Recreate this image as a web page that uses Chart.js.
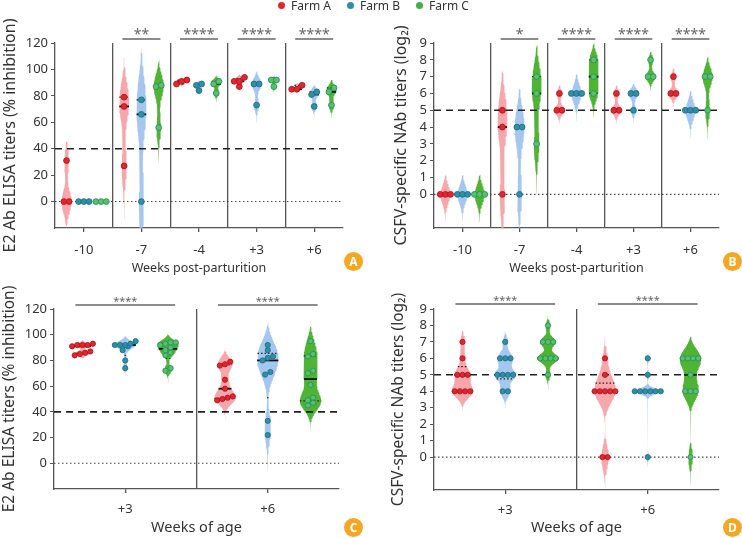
<!DOCTYPE html>
<html>
<head>
<meta charset="utf-8">
<script src="https://cdn.jsdelivr.net/npm/chart.js@4.4.1/dist/chart.umd.min.js"></script>
<style>
  body { margin: 0; background: #fff; font-family: "Noto Sans", sans-serif; }
  #wrap { position: relative; width: 742px; height: 538px; overflow: hidden; }
  canvas { position: absolute; }
  #legend { position: absolute; top: -1px; left: 278px; display: flex; gap: 16px; font-size: 12px; line-height: 13px; color: #333; }
  #legend span { display: flex; align-items: center; }
  #legend i { display: inline-block; width: 7px; height: 7px; border-radius: 50%; margin-right: 6px; }
  .badge { position: absolute; width: 19px; height: 19px; border-radius: 50%; background: #f4a720; color: #fff;
           font: bold 12px "Noto Sans", sans-serif; display: flex; align-items: center; justify-content: center; }
</style>
</head>
<body>
<div id="wrap">
  <canvas id="cA" width="371" height="280" style="left:0;top:0"></canvas>
  <canvas id="cB" width="371" height="280" style="left:371px;top:0"></canvas>
  <canvas id="cC" width="371" height="268" style="left:0;top:270px"></canvas>
  <canvas id="cD" width="371" height="268" style="left:371px;top:270px"></canvas>
  <div id="legend">
    <span><i style="background:#e3262d"></i>Farm A</span>
    <span><i style="background:#2e90a8"></i>Farm B</span>
    <span><i style="background:#3fb14a"></i>Farm C</span>
  </div>
  <div class="badge" style="left:344px;top:252px">A</div>
  <div class="badge" style="left:723px;top:252px">B</div>
  <div class="badge" style="left:344px;top:518px">C</div>
  <div class="badge" style="left:723px;top:518px">D</div>
</div>
<script>
// ---- data ----
const weeksPP = ["-10", "-7", "-4", "+3", "+6"];
const weeksAge = ["+3", "+6"];

const elisaTicks = [0, 20, 40, 60, 80, 100, 120];
const nabTicks = [0, 1, 2, 3, 4, 5, 6, 7, 8, 9];
const elisaCutoff = 40;
const nabCutoff = 5;

// A: sows, E2 ELISA (% inhibition), one list per week
const elisaSowA = [[0, 0, 31], [79, 72, 27], [92, 91, 89], [94, 91, 91, 87], [88, 85, 85]];
const elisaSowB = [[0, 0, 0], [77, 66, 0], [89, 88, 84], [89, 89, 73], [83, 81, 72]];
const elisaSowC = [[0, 0, 0], [88, 87, 56], [91, 89, 82], [92, 92, 87], [86, 83, 73]];
const sigSowElisa = ["", "**", "****", "****", "****"];

// B: sows, NAb titers (log2)
const nabSowA = [[0, 0, 0], [5, 4, 0], [6, 5, 5], [6, 5, 5], [7, 6, 6]];
const nabSowB = [[0, 0, 0], [4, 4, 0], [6, 6, 6], [6, 6, 5], [5, 5, 5]];
const nabSowC = [[0, 0, 0], [7, 6, 3], [8, 7, 6], [8, 7, 7], [7, 7, 5]];
const sigSowNab = ["", "*", "****", "****", "****"];

// C: piglets, E2 ELISA
const elisaPigA = [[93, 92, 92, 92, 91, 87, 86, 85, 84], [79, 77, 76, 65, 58, 52, 51, 50, 49]];
const elisaPigB = [[95, 93, 92, 92, 92, 91, 88, 80, 74], [92, 88, 83, 82, 80, 71, 69, 33, 22]];
const elisaPigC = [[94, 94, 93, 92, 90, 88, 86, 84, 74, 72], [95, 85, 83, 72, 70, 61, 51, 49, 47, 45]];
const sigPigElisa = ["****", "****"];

// D: piglets, NAb titers (log2)
const nabPigA = [[7, 6, 5, 5, 5, 4, 4, 4, 4], [6, 5, 4, 4, 4, 4, 4, 0, 0]];
const nabPigB = [[7, 6, 6, 6, 5, 5, 5, 5, 4, 4], [6, 5, 4, 4, 4, 4, 4, 4, 0]];
const nabPigC = [[8, 7, 7, 7, 6, 6, 6, 6, 5], [6, 6, 6, 6, 5, 4, 4, 4, 0]];
const sigPigNab = ["****", "****"];

// ---- style ----
const offsets = [-0.3, 0, 0.3];
const pointFill = ["#e3262d", "#2e90a8", "#5cc25a"];
const pointEdge = ["#b3141c", "#1f6f86", "#23907a"];
const violinFill = ["rgba(243,152,157,0.85)", "rgba(155,192,236,0.9)", "#4fb334"];
const FONT = "'Noto Sans', sans-serif";
const CUT = 0.03;

// ---- stats helpers ----
function quantile(sorted, p) {
  const n = sorted.length;
  const pos = Math.min(Math.max((n + 1) * p, 1), n);
  const lo = Math.floor(pos), hi = Math.ceil(pos);
  return sorted[lo - 1] + (sorted[hi - 1] - sorted[lo - 1]) * (pos - lo);
}

function summary(values) {
  const s = [...values].sort((a, b) => a - b);
  const n = s.length;
  const mean = s.reduce((a, b) => a + b, 0) / n;
  const sd = Math.sqrt(s.reduce((a, b) => a + (b - mean) ** 2, 0) / (n - 1));
  return { s, n, sd, q1: quantile(s, 0.25), med: quantile(s, 0.5), q3: quantile(s, 0.75) };
}

function bandwidth(st, flatBw, minBw) {
  if (st.sd === 0) return flatBw;
  const spread = Math.min(st.sd, (st.q3 - st.q1) / 1.34) || st.sd;
  return Math.max(0.6 * spread * Math.pow(st.n, -0.2), minBw);
}

const dens = (vals, bw, y) => vals.reduce((a, v) => a + Math.exp(-0.5 * ((y - v) / bw) ** 2), 0);

function violin(vals, center, bw, halfMax) {
  const lo = Math.min(...vals) - 3 * bw, hi = Math.max(...vals) + 3 * bw;
  const ys = [];
  for (let k = 0; k <= 160; k++) ys.push(lo + (hi - lo) * k / 160);
  const dMax = Math.max(...ys.map(y => dens(vals, bw, y)));
  const hw = y => halfMax * Math.max(0, (dens(vals, bw, y) / dMax - CUT) / (1 - CUT));
  const right = ys.map(y => ({ x: center + hw(y), y }));
  const left = ys.slice().reverse().map(y => ({ x: center - hw(y), y }));
  return { pts: right.concat(left), hw };
}

// points sharing (nearly) one level are spread side by side, centred
function swarm(vals, center, step, thr) {
  const s = [...vals].sort((a, b) => a - b);
  const out = [];
  let cl = [];
  const flush = () => cl.forEach((v, k) => out.push({ x: center + (k - (cl.length - 1) / 2) * step, y: v }));
  s.forEach(v => {
    if (cl.length && v - cl[0] >= thr) { flush(); cl = []; }
    cl.push(v);
  });
  flush();
  return out;
}

const hLine = (x0, x1, y, extra) => Object.assign({
  data: [{ x: x0, y }, { x: x1, y }], showLine: true, pointRadius: 0, fill: false
}, extra);

// significance bars above the plot
const sigBars = {
  id: "sigBars",
  afterDraw(chart, args, opts) {
    const { ctx, chartArea, scales: { x } } = chart;
    opts.labels.forEach((lab, i) => {
      if (!lab) return;
      const x0 = x.getPixelForValue(i - opts.half), x1 = x.getPixelForValue(i + opts.half);
      const y = chartArea.top - opts.gap;
      ctx.save();
      ctx.strokeStyle = opts.color;
      ctx.lineWidth = 1.3;
      ctx.beginPath(); ctx.moveTo(x0, y); ctx.lineTo(x1, y); ctx.stroke();
      ctx.fillStyle = opts.color;
      ctx.font = opts.size + "px " + FONT;
      ctx.textAlign = "center";
      ctx.textBaseline = "alphabetic";
      ctx.fillText(lab, (x0 + x1) / 2, y - 0.5);
      ctx.restore();
    });
  }
};

function makePanel(p) {
  const nCat = p.cats.length;
  const xMin = -0.5, xMax = nCat - 0.5;
  const plotW = p.box.w - p.box.left - p.box.right;
  const plotH = p.box.h - p.box.top - p.box.bottom;
  const pxX = plotW / nCat, pxY = plotH / (p.yMax - p.yMin);
  const step = 5.2 / pxX, thr = 4 / pxY;

  const datasets = [
    hLine(xMin, xMax, p.cutoff, { borderColor: "#222", borderWidth: 1.6, borderDash: [7, 5], order: 1 }),
    hLine(xMin, xMax, 0, { borderColor: "#444", borderWidth: 1.1, borderDash: [1.5, 2.5], order: 1 })
  ];

  p.series.forEach((farm, f) => {
    farm.forEach((vals, i) => {
      const c = i + offsets[f];
      const st = summary(vals);
      const bw = bandwidth(st, p.flatBw, p.minBw);
      if (bw > 0) {
        const v = violin(vals, c, bw, p.vWidth);
        datasets.push({
          data: v.pts, showLine: true, fill: "shape", pointRadius: 0,
          borderColor: "transparent", backgroundColor: violinFill[f], order: 3
        });
        [st.q1, st.q3].forEach(q => {
          const w = v.hw(q);
          if (w > 0.004) datasets.push(hLine(c - w, c + w, q, { borderColor: "#222", borderWidth: 1.2, borderDash: [1.5, 2], order: 2 }));
        });
        const wm = v.hw(st.med);
        datasets.push(hLine(c - wm, c + wm, st.med, { borderColor: "#111", borderWidth: 1.8, order: 2 }));
      }
      datasets.push({
        data: swarm(vals, c, step, thr), pointRadius: p.ptR, pointBackgroundColor: pointFill[f],
        pointBorderColor: pointEdge[f], pointBorderWidth: 0.9, order: 0
      });
    });
  });

  const xTicks = [];
  for (let v = xMin; v <= xMax + 1e-9; v += 0.5) xTicks.push(v);
  const isSep = v => !Number.isInteger(v) && v > xMin && v < xMax;

  new Chart(document.getElementById(p.id), {
    type: "scatter",
    data: { datasets },
    options: {
      responsive: false,
      animation: false,
      events: [],
      layout: { padding: { top: p.box.top, right: p.box.right, left: 0, bottom: 0 } },
      plugins: {
        legend: { display: false },
        tooltip: { enabled: false },
        sigBars: { labels: p.sig, half: p.sigHalf, gap: p.sigGap, color: "#666", size: p.starSize }
      },
      scales: {
        x: {
          type: "linear", min: xMin, max: xMax,
          afterBuildTicks: s => { s.ticks = xTicks.map(value => ({ value })); },
          afterFit: s => { s.height = p.box.bottom; },
          ticks: {
            autoSkip: false, maxRotation: 0, padding: p.xTickPad, color: "#333",
            font: { family: FONT, size: 13 },
            callback: v => Number.isInteger(v) ? p.cats[v] : ""
          },
          grid: {
            color: c => isSep(c.tick.value) ? "#555" : "transparent",
            tickColor: c => Number.isInteger(c.tick.value) ? "#555" : "transparent",
            lineWidth: 1.3, tickLength: 4
          },
          border: { color: "#555", width: 1.3 },
          title: { display: true, text: p.xTitle, color: "#333", font: { family: FONT, size: p.xTitleSize }, padding: { top: 0, bottom: p.xTitlePad } }
        },
        y: {
          min: p.yMin, max: p.yMax,
          afterBuildTicks: s => { s.ticks = p.yTicks.map(value => ({ value })); },
          afterFit: s => { s.width = p.box.left; },
          ticks: { padding: 3, color: "#333", font: { family: FONT, size: 13 } },
          grid: { drawOnChartArea: false, tickLength: 4, tickColor: "#555" },
          border: { color: "#555", width: 1.3 },
          title: { display: true, text: p.yTitle, color: "#333", font: { family: FONT, size: p.yTitleSize }, padding: { top: p.yTitlePad, bottom: 0 } }
        }
      }
    },
    plugins: [sigBars]
  });
}

const panels = [
  { id: "cA", cats: weeksPP, series: [elisaSowA, elisaSowB, elisaSowC], sig: sigSowElisa,
    yMin: -20, yMax: 120, yTicks: elisaTicks, cutoff: elisaCutoff,
    yTitle: "E2 Ab ELISA titers (% inhibition)", xTitle: "Weeks post-parturition",
    box: { w: 371, h: 280, left: 55, right: 28, top: 43, bottom: 52 },
    xTickPad: 10, xTitlePad: 4, xTitleSize: 12.5, yTitleSize: 16, yTitlePad: 0.5, flatBw: 0, minBw: 0.5, vWidth: 0.087,
    ptR: 2.9, sigHalf: 0.33, sigGap: 4, starSize: 14 },
  { id: "cB", cats: weeksPP, series: [nabSowA, nabSowB, nabSowC], sig: sigSowNab,
    yMin: -2, yMax: 9, yTicks: nabTicks, cutoff: nabCutoff,
    yTitle: "CSFV-specific NAb titers (log₂)", xTitle: "Weeks post-parturition",
    box: { w: 371, h: 280, left: 63, right: 23, top: 43, bottom: 52 },
    xTickPad: 10, xTitlePad: 4, xTitleSize: 12.5, yTitleSize: 16, yTitlePad: 21, flatBw: 0.55, minBw: 0.2, vWidth: 0.087,
    ptR: 2.9, sigHalf: 0.33, sigGap: 4, starSize: 14 },
  { id: "cC", cats: weeksAge, series: [elisaPigA, elisaPigB, elisaPigC], sig: sigPigElisa,
    yMin: -20, yMax: 120, yTicks: elisaTicks, cutoff: elisaCutoff,
    yTitle: "E2 Ab ELISA titers (% inhibition)", xTitle: "Weeks of age",
    box: { w: 371, h: 268, left: 54, right: 32, top: 39, bottom: 49 },
    xTickPad: 8, xTitlePad: 1, xTitleSize: 14.5, yTitleSize: 15.5, yTitlePad: 0, flatBw: 0, minBw: 0.5, vWidth: 0.075,
    ptR: 2.6, sigHalf: 0.35, sigGap: 4, starSize: 11 },
  { id: "cD", cats: weeksAge, series: [nabPigA, nabPigB, nabPigC], sig: sigPigNab,
    yMin: -2, yMax: 9, yTicks: nabTicks, cutoff: nabCutoff,
    yTitle: "CSFV-specific NAb titers (log₂)", xTitle: "Weeks of age",
    box: { w: 371, h: 268, left: 63, right: 23, top: 39, bottom: 48 },
    xTickPad: 8, xTitlePad: 1, xTitleSize: 14.5, yTitleSize: 15.5, yTitlePad: 18, flatBw: 0.55, minBw: 0.2, vWidth: 0.075,
    ptR: 2.6, sigHalf: 0.35, sigGap: 5, starSize: 11 }
];

panels.forEach(makePanel);
</script>
</body>
</html>
